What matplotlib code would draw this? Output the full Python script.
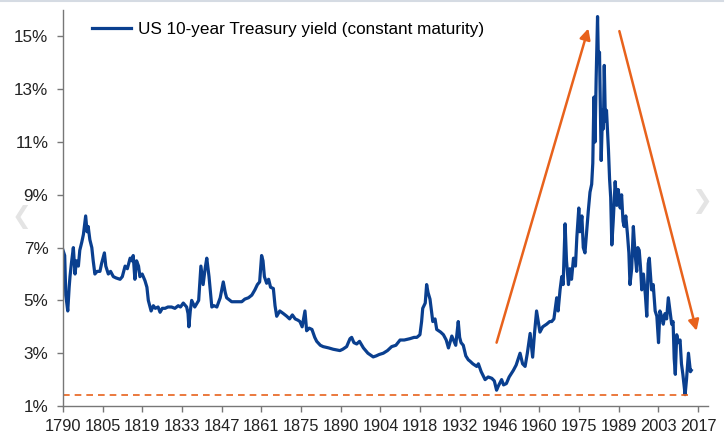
import matplotlib.pyplot as plt
from matplotlib import font_manager
from matplotlib.lines import Line2D

# 10년물 국채 금리 (연도, %)  - 그림에서 읽은 값
years = [
    1790.0, 1790.6, 1791.0, 1791.7, 1792.2, 1792.5, 1793.0, 1793.7, 1794.3, 1794.8,
    1795.5, 1796.0, 1796.7, 1797.3, 1798.1, 1798.6, 1799.0, 1799.6, 1800.3, 1800.8,
    1801.4, 1802.2, 1803.2, 1803.8, 1804.8, 1805.3, 1806.2, 1807.0, 1808.0, 1809.0,
    1810.4, 1811.2, 1812.2, 1813.0, 1814.0, 1814.6, 1815.1, 1815.7, 1816.3, 1817.0,
    1817.5, 1818.3, 1819.3, 1820.0, 1820.5, 1821.5, 1822.3, 1823.0, 1824.0, 1824.7,
    1825.5, 1826.5, 1827.5, 1828.8, 1830.0, 1831.2, 1832.0, 1833.0, 1834.2, 1834.7,
    1835.0, 1835.5, 1836.0, 1837.1, 1838.5, 1839.3, 1840.1, 1840.8, 1841.4, 1842.2,
    1843.2, 1844.0, 1845.0, 1846.2, 1847.3, 1848.0, 1848.5, 1850.3, 1852.0, 1853.9,
    1855.0, 1856.3, 1857.5, 1858.6, 1859.5, 1860.3, 1861.0, 1861.5, 1862.0, 1862.8,
    1863.5, 1864.2, 1865.2, 1865.8, 1866.4, 1867.5, 1868.8, 1870.0, 1871.0, 1872.0,
    1873.0, 1874.0, 1874.7, 1875.5, 1876.5, 1877.1, 1878.0, 1879.0, 1880.0, 1880.7,
    1882.0, 1883.0, 1885.0, 1886.6, 1889.0, 1890.0, 1891.4, 1892.6, 1893.2, 1894.0,
    1895.0, 1896.0, 1897.4, 1899.0, 1900.9, 1902.0, 1903.0, 1904.5, 1906.0, 1907.5,
    1909.0, 1910.5, 1912.0, 1914.0, 1915.5, 1916.5, 1917.6, 1918.2, 1918.6, 1919.5,
    1920.0, 1920.5, 1921.2, 1922.2, 1923.0, 1923.6, 1925.0, 1926.0, 1927.0, 1927.8,
    1929.0, 1930.4, 1931.3, 1931.8, 1932.3, 1933.1, 1934.0, 1934.9, 1935.5, 1936.5,
    1937.9, 1938.5, 1939.5, 1940.9, 1942.0, 1943.3, 1944.2, 1945.0, 1945.6, 1946.8,
    1947.5, 1948.5, 1949.5, 1951.0, 1952.0, 1953.4, 1954.3, 1955.2, 1956.0, 1957.0,
    1957.9, 1958.6, 1959.3, 1960.5, 1961.5, 1962.9, 1964.0, 1964.7, 1965.5, 1966.5,
    1967.0, 1967.7, 1968.3, 1968.8, 1969.5, 1970.0, 1970.7, 1971.2, 1971.8, 1972.5,
    1973.2, 1973.7, 1974.4, 1974.8, 1975.5, 1976.0, 1976.6, 1977.2, 1977.8, 1978.4,
    1979.0, 1979.4, 1979.8, 1980.2, 1980.6, 1981.1, 1981.4, 1981.8, 1982.4, 1982.9,
    1983.2, 1983.5, 1983.9, 1984.3, 1985.0, 1985.4, 1985.8, 1986.2, 1986.7, 1987.4,
    1988.0, 1988.5, 1989.2, 1989.7, 1990.2, 1990.6, 1991.2, 1991.8, 1992.3, 1992.7,
    1993.3, 1993.9, 1994.5, 1995.1, 1995.5, 1996.0, 1996.5, 1996.9, 1997.5, 1998.2,
    1998.7, 1999.2, 1999.6, 2000.4, 2001.0, 2001.7, 2002.3, 2002.9, 2003.4, 2004.0,
    2004.6, 2005.2, 2005.8, 2006.4, 2007.0, 2007.6, 2008.1, 2008.5, 2008.9, 2009.4,
    2010.0, 2010.6, 2011.1, 2011.6, 2012.0, 2012.4, 2012.9, 2013.6, 2014.0, 2014.3,
    2014.6,
]
yields = [
    6.9, 6.7, 5.2, 4.6, 5.5, 5.9, 6.4, 7.0, 6.0, 6.5,
    6.3, 6.9, 7.2, 7.5, 8.2, 7.6, 7.8, 7.3, 7.0, 6.5,
    6.0, 6.1, 6.1, 6.4, 6.8, 6.3, 6.0, 6.1, 5.9, 5.85,
    5.8, 5.9, 6.3, 6.2, 6.6, 6.5, 6.7, 5.8, 6.5, 6.3,
    5.9, 6.0, 5.75, 5.5, 5.0, 4.6, 4.8, 4.7, 4.75, 4.55,
    4.7, 4.7, 4.75, 4.75, 4.7, 4.8, 4.75, 4.9, 4.75, 4.5,
    4.0, 4.6, 5.0, 4.75, 5.0, 6.3, 5.6, 6.2, 6.6, 5.9,
    4.75, 4.8, 4.75, 5.1, 5.7, 5.3, 5.1, 4.95, 4.95, 4.95,
    5.05, 5.1, 5.2, 5.4, 5.6, 5.7, 6.7, 6.5, 5.9, 5.65,
    5.8, 5.5, 5.45, 4.8, 4.4, 4.6, 4.5, 4.4, 4.3, 4.45,
    4.3, 4.25, 4.2, 4.0, 4.6, 3.85, 3.95, 3.9, 3.6, 3.45,
    3.3, 3.25, 3.2, 3.15, 3.1, 3.15, 3.25, 3.55, 3.6, 3.4,
    3.35, 3.45, 3.2, 3.0, 2.86, 2.9, 2.95, 3.0, 3.1, 3.25,
    3.3, 3.5, 3.5, 3.55, 3.6, 3.6, 3.7, 4.2, 4.7, 4.9,
    5.6, 5.3, 5.05, 4.2, 4.3, 3.9, 3.8, 3.7, 3.5, 3.2,
    3.65, 3.3, 4.2, 3.6, 3.4, 3.3, 2.9, 2.75, 2.7, 2.6,
    2.5, 2.6, 2.3, 2.0, 2.1, 2.05, 1.95, 1.6, 1.75, 2.0,
    1.8, 1.85, 2.1, 2.35, 2.55, 3.0, 2.6, 2.5, 3.0, 3.75,
    2.85, 3.8, 4.6, 3.8, 4.0, 4.1, 4.2, 4.2, 4.3, 5.1,
    4.6, 5.4, 5.9, 5.6, 7.9, 6.5, 5.6, 6.2, 5.8, 6.6,
    6.3, 7.4, 8.5, 7.6, 8.2, 7.0, 6.8, 7.6, 8.4, 9.1,
    9.4, 10.2, 12.7, 11.0, 13.4, 15.75, 14.1, 14.4, 10.3, 12.2,
    11.5, 13.9, 11.8, 12.2, 10.7, 9.6, 8.9, 7.1, 8.0, 9.5,
    8.6, 9.2, 8.5, 9.0, 8.0, 7.8, 8.2, 7.5, 6.8, 5.6,
    6.2, 7.8, 6.8, 6.1, 7.0, 6.9, 6.2, 5.4, 6.0, 5.2,
    4.4, 6.4, 6.6, 5.4, 5.6, 4.6, 4.4, 3.4, 4.6, 4.4,
    4.1, 4.5, 4.3, 5.1, 4.6, 4.1, 4.2, 2.8, 2.2, 3.7,
    3.4, 3.5, 2.6, 2.2, 1.8, 1.43, 2.0, 3.0, 2.6, 2.3,
    2.35,
]

tick_labels = ['1790', '1805', '1819', '1833', '1847', '1861', '1875', '1890', '1904',
               '1918', '1932', '1946', '1960', '1975', '1989', '2003', '2017']
y_ticks = [1, 3, 5, 7, 9, 11, 13, 15]

# 화살표 (시작, 끝) - 연도, %
up_arrow = [(1945.0, 3.4), (1977.8, 15.3)]
down_arrow = [(1988.9, 15.2), (2016.5, 3.85)]
floor_end = 2014.3

line_color = '#0A3F8F'
arrow_color = '#E8621C'

plt.rcParams['font.family'] = ['Liberation Sans', 'DejaVu Sans']

# x축 라벨용 좁은 글꼴 찾기 (없으면 일반 글꼴을 작게)
names = {f.name for f in font_manager.fontManager.ttflist}
xfont = dict(family='Liberation Sans', fontsize=11.8)
if 'Liberation Sans Narrow' in names:
    xfont = dict(family='Liberation Sans Narrow', fontsize=14)

fig = plt.figure(figsize=(7.25, 4.42), dpi=100)
ax = fig.add_axes([0.0869, 0.0814, 0.8897, 0.896])

ax.plot(years, yields, color=line_color, lw=2.3, label='US 10-year Treasury yield (constant maturity)')

# 최저점 점선
ax.hlines(min(yields), years[0], floor_end, colors=arrow_color, linestyles=(0, (4, 3)), lw=1.2)

ax.annotate('', xy=up_arrow[1], xytext=up_arrow[0],
            arrowprops=dict(arrowstyle='-|>', color=arrow_color, lw=1.8, mutation_scale=16, shrinkA=0, shrinkB=0))
ax.annotate('', xy=down_arrow[1], xytext=down_arrow[0],
            arrowprops=dict(arrowstyle='-|>', color=arrow_color, lw=1.8, mutation_scale=16, shrinkA=0, shrinkB=0))

x0, x1 = 1790, 2017
tick_pos = [x0 + i * (x1 - x0) / (len(tick_labels) - 1) for i in range(len(tick_labels))]
ax.set_xticks(tick_pos)
ax.set_xticklabels(tick_labels, color='#222222', **xfont)
ax.set_xlim(1790, 2020.6)

ax.set_yticks(y_ticks)
ax.set_yticklabels([f'{v}%' for v in y_ticks], fontsize=12.3, color='#222222')
ax.set_ylim(1, 16)

for s in ['top', 'right']:
    ax.spines[s].set_visible(False)
for s in ['left', 'bottom']:
    ax.spines[s].set_color('#777777')
    ax.spines[s].set_linewidth(1.0)
ax.tick_params(axis='both', direction='out', length=4.5, width=1.0, color='#777777')
ax.tick_params(axis='y', pad=6)
ax.tick_params(axis='x', pad=5)

ax.legend(loc='upper left', bbox_to_anchor=(0.045, 0.97), frameon=False, fontsize=12.3,
          handlelength=2.3, handletextpad=0.4, borderpad=0, borderaxespad=0)

# 위쪽 옅은 테두리와 슬라이드 화살표 흔적
fig.add_artist(Line2D([0, 0.997], [0.998, 0.998], transform=fig.transFigure, color='#d5dbe3', lw=1.5))
fig.text(0.03, 0.51, '❮', fontsize=17, color='#e4e4e4', ha='center', va='center', family='DejaVu Sans')
fig.text(0.968, 0.545, '❯', fontsize=18, color='#e4e4e4', ha='center', va='center', family='DejaVu Sans')

plt.savefig('out.png', dpi=100)
